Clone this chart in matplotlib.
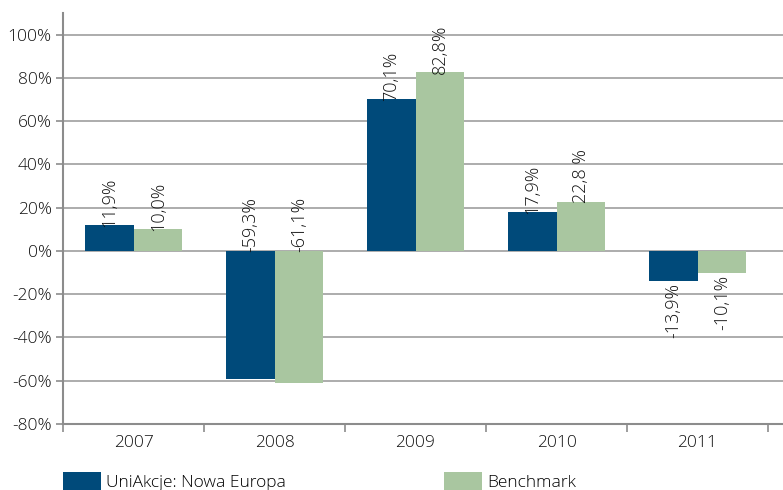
import matplotlib.pyplot as plt
import numpy as np
from matplotlib.ticker import FuncFormatter

# dane
lata = ['2007', '2008', '2009', '2010', '2011']
fundusz = [11.9, -59.3, 70.1, 17.9, -13.9]
benchmark = [10.0, -61.1, 82.8, 22.8, -10.1]
etyk_fundusz = ['11,9%', '-59,3%', '70,1%', '17,9%', '-13,9%']
etyk_benchmark = ['10,0%', '-61,1%', '82,8%', '22,8 %', '-10,1%']

plt.rcParams['font.family'] = ['Open Sans', 'DejaVu Sans']
plt.rcParams['font.weight'] = 'light'
plt.rcParams['font.stretch'] = 'normal'
kolor_szary = '#8c8c8c'
kolor_tekst = '#111111'
rozm = 12.5

fig = plt.figure(figsize=(7.83, 4.9), dpi=100)
ax = fig.add_axes([63 / 783, 1 - 424 / 490, 720 / 783, (424 - 13) / 490])

x = np.arange(len(lata))
w = 0.345
b1 = ax.bar(x - w / 2, fundusz, w, color='#004a7a', label='UniAkcje: Nowa Europa', zorder=3)
b2 = ax.bar(x + w / 2, benchmark, w, color='#a9c6a0', label='Benchmark', zorder=3)

# etykiety nad słupkami
for xs, vals, labs in [(x - w / 2, fundusz, etyk_fundusz), (x + w / 2, benchmark, etyk_benchmark)]:
    for xi, v, t in zip(xs, vals, labs):
        if v >= 0:
            ax.text(xi, v - 0.8, t, rotation=90, ha='center', va='bottom', fontsize=13, color=kolor_tekst, zorder=4)
        elif v < -30:
            ax.text(xi, -0.5, t, rotation=90, ha='center', va='bottom', fontsize=13, color=kolor_tekst, zorder=4)
        else:
            ax.text(xi, v - 1, t, rotation=90, ha='center', va='top', fontsize=13, color=kolor_tekst, zorder=4)

ax.set_ylim(-80, 110)
ax.set_yticks(np.arange(-80, 101, 20))
ax.yaxis.set_major_formatter(FuncFormatter(lambda v, p: f'{int(v)}%'))
ax.set_xlim(-0.5, 4.5 + 15 / 141)
ax.set_xticks(x)
ax.set_xticklabels(lata)
ax.set_xticks(np.arange(-0.5, 4.6, 1), minor=True)
ax.tick_params(axis='x', which='major', length=0, pad=8, labelsize=rozm, labelcolor=kolor_tekst)
ax.tick_params(axis='x', which='minor', length=6, color=kolor_szary, width=1.2)
ax.tick_params(axis='y', length=5, color=kolor_szary, width=1.2, labelsize=rozm, labelcolor=kolor_tekst, pad=3)

ax.grid(axis='y', color='#a6a6a6', linewidth=1.3, zorder=0)
for s in ['top', 'right']:
    ax.spines[s].set_visible(False)
for s in ['left', 'bottom']:
    ax.spines[s].set_color(kolor_szary)
    ax.spines[s].set_linewidth(1.5)

fig.legend(handles=[b1, b2], loc='lower left', bbox_to_anchor=(56 / 783, -8 / 490), ncol=2, frameon=False,
           fontsize=rozm, handlelength=2.2, handleheight=1.2, handletextpad=0.3, columnspacing=9.1,
           borderaxespad=0)

plt.savefig('out.png', dpi=100)
